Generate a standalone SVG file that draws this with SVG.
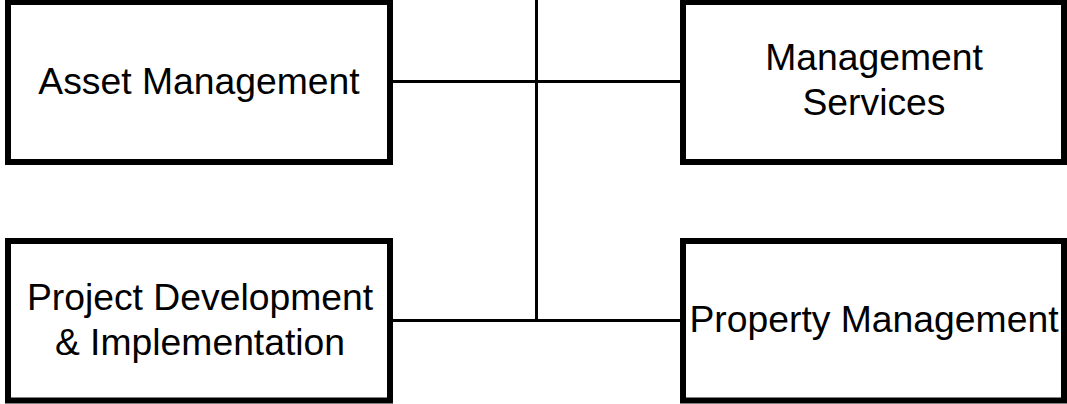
<svg xmlns="http://www.w3.org/2000/svg" width="1067" height="404" viewBox="0 0 1067 404">
  <style>
    .box { fill: #ffffff; stroke: #000000; stroke-width: 6; }
    .link { fill: none; stroke: #000000; stroke-width: 3; }
    .label { font-family: "Liberation Sans", Arial, sans-serif; font-size: 37.3px; fill: #000000; text-anchor: middle; }
  </style>
  <rect x="0" y="0" width="1067" height="404" fill="#ffffff"/>

  <!-- connectors: central trunk with two horizontal branches -->
  <g id="connectors">
    <line class="link" x1="536.5" y1="0" x2="536.5" y2="320.5"/>
    <line class="link" x1="390" y1="81.5" x2="683" y2="81.5"/>
    <line class="link" x1="390" y1="320.5" x2="683" y2="320.5"/>
  </g>

  <g id="asset-management">
    <rect class="box" x="8" y="2" width="382" height="160"/>
    <text class="label" x="199" y="93.5">Asset Management</text>
  </g>

  <g id="management-services">
    <rect class="box" x="683" y="2" width="381" height="160"/>
    <text class="label" x="874" y="70">Management</text>
    <text class="label" x="874" y="115">Services</text>
  </g>

  <g id="project-development">
    <rect class="box" x="8" y="241" width="382" height="159.5"/>
    <text class="label" x="200" y="309.5">Project Development</text>
    <text class="label" x="200" y="354.5">&amp; Implementation</text>
  </g>

  <g id="property-management">
    <rect class="box" x="683" y="241" width="381" height="159.5"/>
    <text class="label" x="874" y="332">Property Management</text>
  </g>
</svg>
